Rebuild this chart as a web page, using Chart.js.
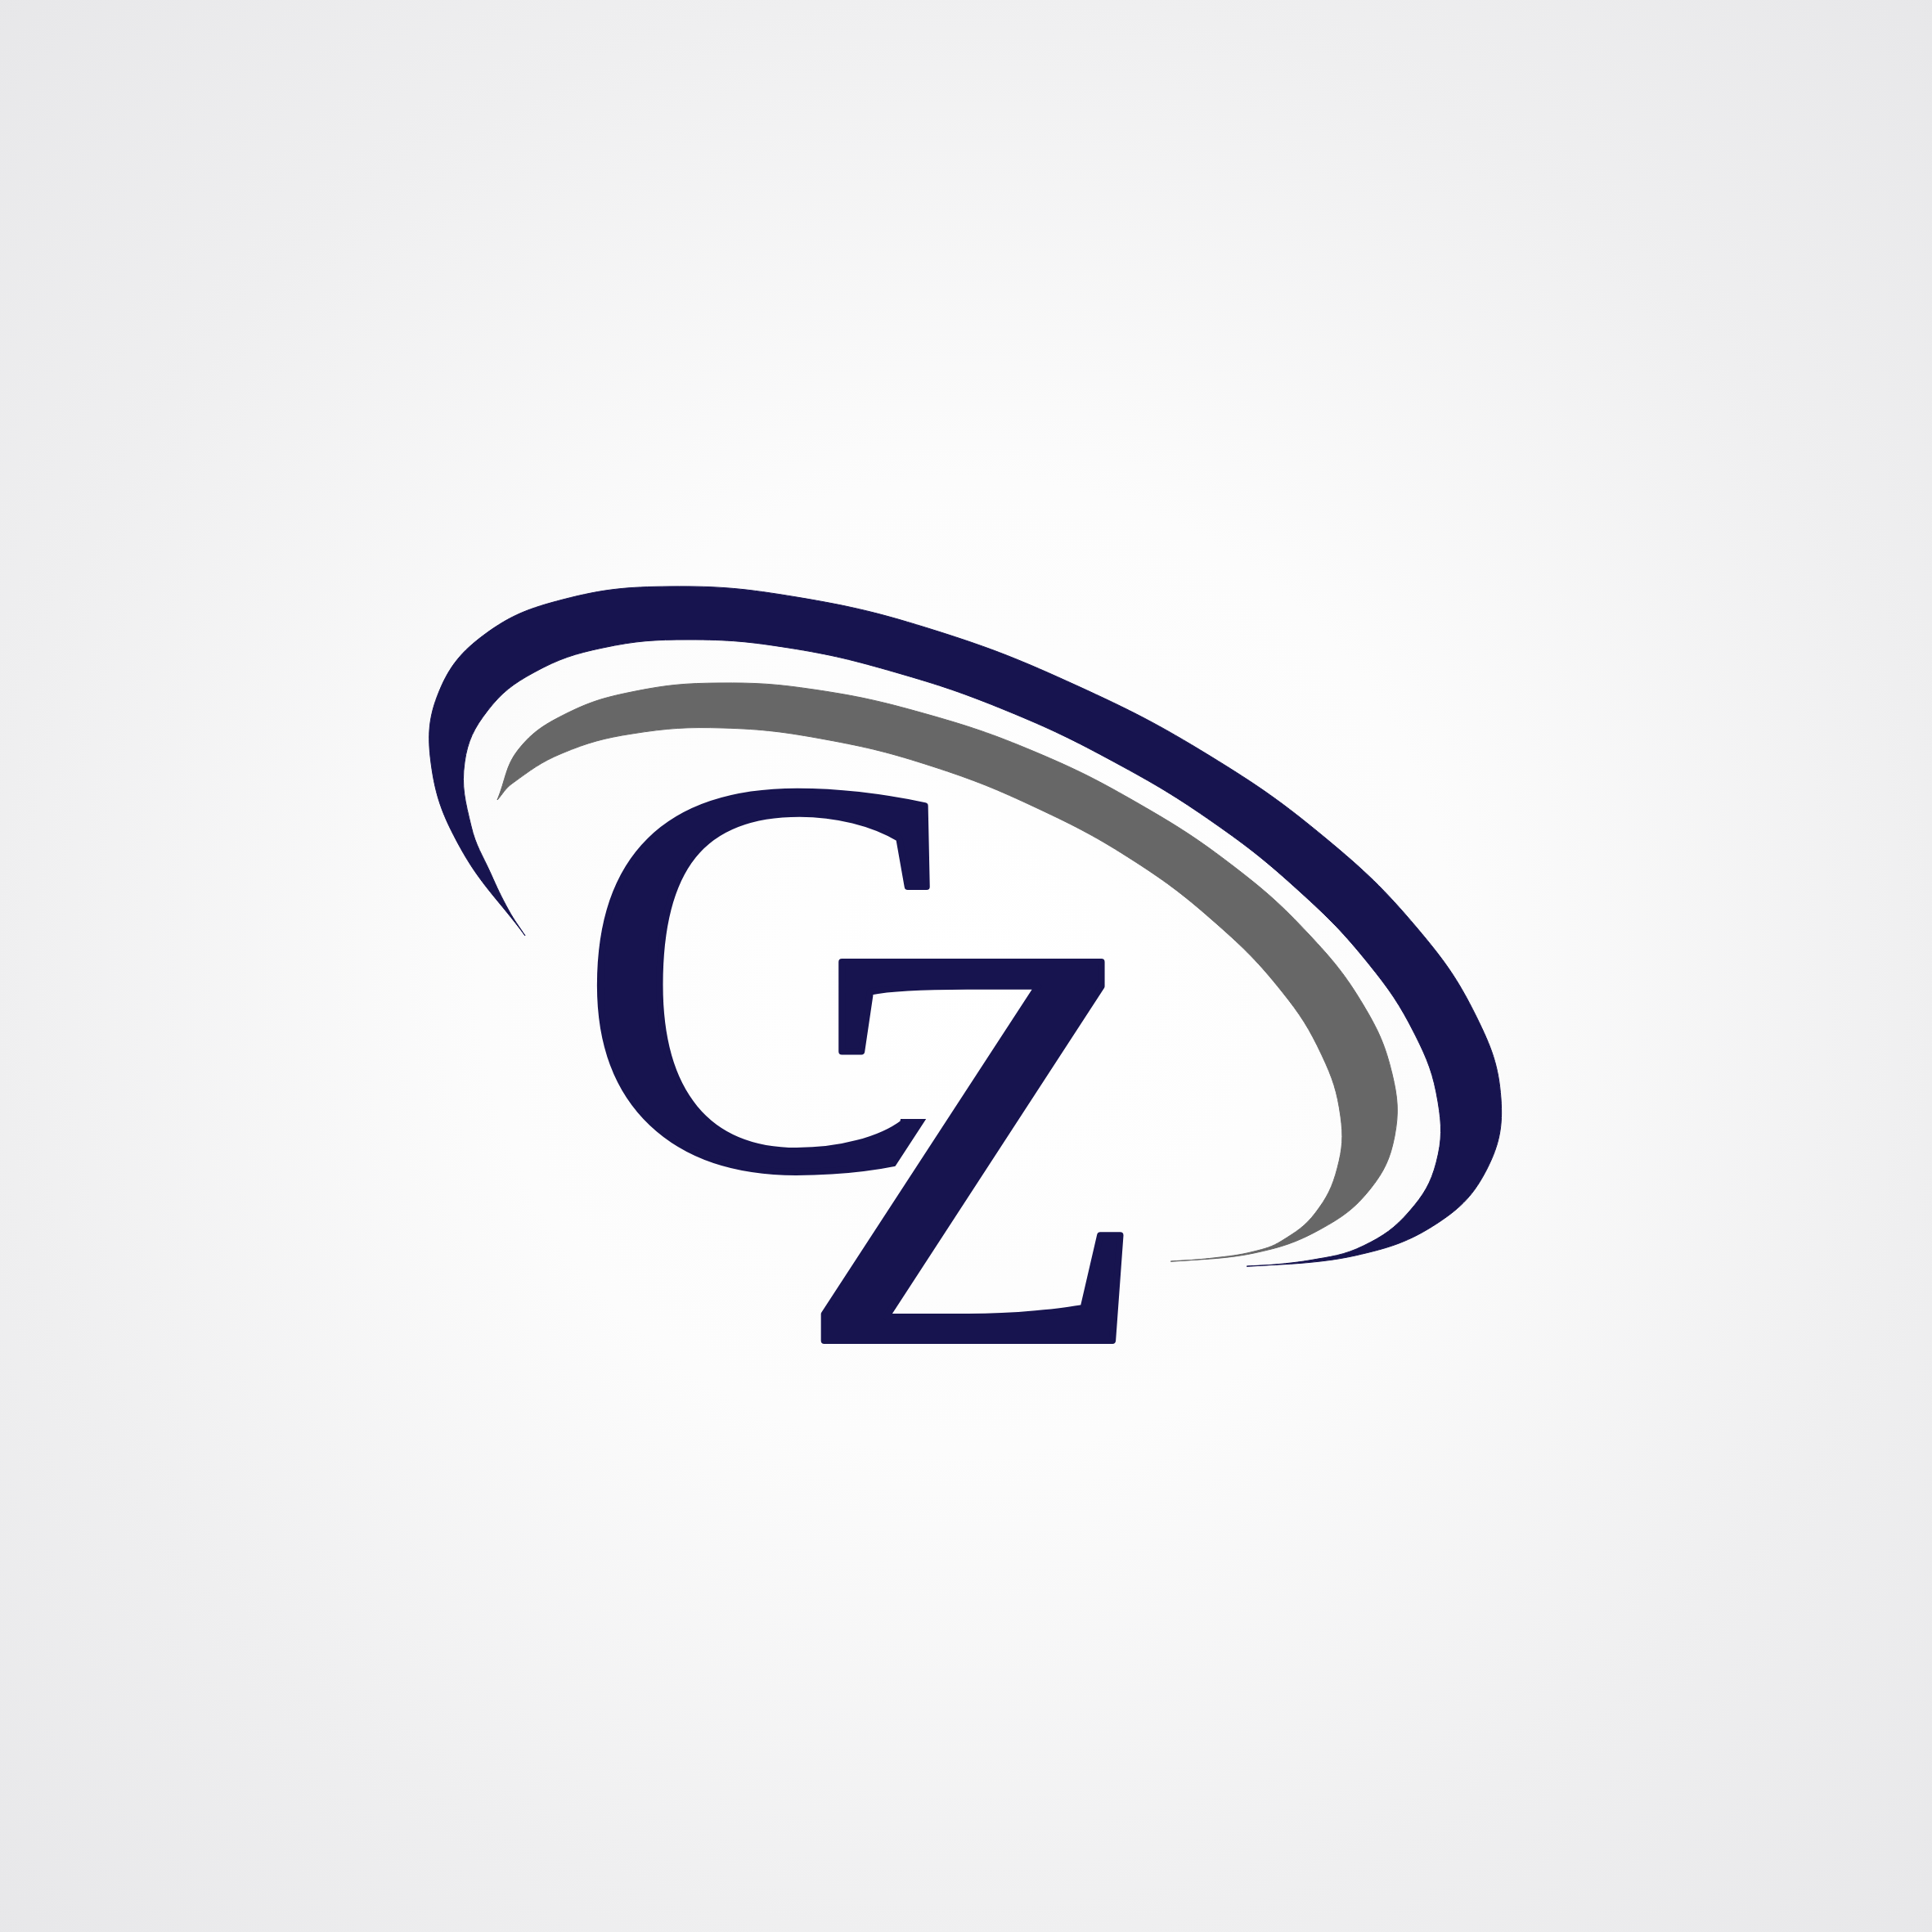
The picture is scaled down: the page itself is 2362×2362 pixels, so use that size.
<!DOCTYPE html>
<html lang="en">
  <head>
    <meta charset="utf-8" />
    <title>CZ monogram</title>
    <style>
      * {
        margin: 0;
        padding: 0;
      }
      body {
        background: #e8e8ea;
      }
      .chartBox {
        width: 2362px;
        height: 2362px;
      }
    </style>
  </head>
  <body>
    <div class="chartBox">
      <canvas id="myChart"></canvas>
    </div>

    <script src="https://cdn.jsdelivr.net/npm/chart.js"></script>

    <script>
      // swoosh outlines, [x, y] on a 0..2362 grid
      const navyOuter = [
        [642, 1144], [562, 1035], [527, 933], [537, 845], [592, 776],
        [688, 733], [819, 717], [974, 730], [1144, 771], [1316, 838],
        [1479, 924], [1621, 1025], [1732, 1134], [1805, 1243], [1835, 1343],
        [1818, 1429], [1758, 1495], [1657, 1535], [1525, 1548],
      ];
      const navyInner = [
        [1600, 1541], [1667, 1523], [1723, 1481], [1756, 1421], [1758, 1347],
        [1730, 1265], [1673, 1178], [1589, 1090], [1484, 1006], [1363, 932],
        [1231, 869], [1095, 822], [964, 792], [842, 782], [737, 792],
        [653, 822], [596, 869], [568, 932], [576, 1010], [600, 1068],
        [622, 1113], [642, 1144],
      ];
      const grayOuter = [
        [608, 978], [634, 916], [693, 872], [777, 845], [879, 835],
        [995, 843], [1129, 872], [1265, 919], [1393, 983], [1508, 1059],
        [1600, 1142], [1667, 1229], [1702, 1313], [1705, 1389], [1675, 1454],
        [1614, 1503], [1533, 1532], [1432, 1542],
      ];
      const grayInner = [
        [1483, 1538], [1533, 1530], [1567, 1517], [1608, 1483], [1635, 1428],
        [1639, 1365], [1616, 1290], [1567, 1212], [1488, 1130], [1387, 1053],
        [1268, 988], [1140, 937], [1009, 904], [884, 890], [773, 897],
        [687, 921], [626, 958], [608, 978],
      ];
      const swooshColors = ["#17144f", "#676767"];
      const letters = ["C", "Z"];
      const letterColor = "#17144f";

      const toPoints = (outer, inner) =>
        outer.concat(inner).map(([x, y]) => ({ x, y }));

      // background block
      const backdrop = {
        id: "backdrop",
        beforeDraw(chart) {
          const { ctx, width, height } = chart;
          const g = ctx.createRadialGradient(
            width / 2, height / 2, 0,
            width / 2, height / 2, width * 0.72
          );
          g.addColorStop(0, "#ffffff");
          g.addColorStop(0.35, "#fcfcfc");
          g.addColorStop(0.7, "#efeff0");
          g.addColorStop(1, "#e7e7e9");
          ctx.save();
          ctx.fillStyle = g;
          ctx.fillRect(0, 0, width, height);
          ctx.restore();
        },
      };

      // put one glyph so that its ink fills the given box
      const glyphFrame = (c, text, box, inset) => {
        c.font = '400px "Liberation Serif"';
        c.textAlign = "left";
        c.textBaseline = "alphabetic";
        const m = c.measureText(text);
        const inkW = m.actualBoundingBoxLeft + m.actualBoundingBoxRight;
        const inkH = m.actualBoundingBoxAscent + m.actualBoundingBoxDescent;
        const sx = (box.right - box.left - 2 * inset) / inkW;
        const sy = (box.bottom - box.top - 2 * inset) / inkH;
        c.translate(box.left + inset, box.top + inset);
        c.scale(sx, sy);
        return {
          tx: m.actualBoundingBoxLeft,
          ty: m.actualBoundingBoxAscent,
          k: (sx + sy) / 2,
        };
      };

      // monogram letters, drawn on a layer so the Z can cut the C
      const monogram = {
        id: "monogram",
        afterDatasetsDraw(chart, args, options) {
          const { ctx, scales: { x, y } } = chart;
          const toBox = (b) => ({
            left: x.getPixelForValue(b[0]),
            top: y.getPixelForValue(b[1]),
            right: x.getPixelForValue(b[2]),
            bottom: y.getPixelForValue(b[3]),
          });
          const boxC = toBox(options.boxes[0]);
          const boxZ = toBox(options.boxes[1]);
          const trim = toBox(options.trim);
          const thick = options.weight;

          const layer = document.createElement("canvas");
          layer.width = chart.canvas.width;
          layer.height = chart.canvas.height;
          const lc = layer.getContext("2d");
          lc.setTransform(ctx.getTransform());
          lc.lineJoin = "round";

          // C
          lc.save();
          lc.beginPath();
          lc.rect(0, 0, chart.width, chart.height);
          lc.rect(trim.left, trim.top, trim.right - trim.left, trim.bottom - trim.top);
          lc.clip("evenodd");
          let f = glyphFrame(lc, letters[0], boxC, thick / 2);
          lc.fillStyle = letterColor;
          lc.strokeStyle = letterColor;
          lc.lineWidth = thick / f.k;
          lc.fillText(letters[0], f.tx, f.ty);
          lc.strokeText(letters[0], f.tx, f.ty);
          lc.restore();

          // gap round the Z
          lc.save();
          lc.globalCompositeOperation = "destination-out";
          f = glyphFrame(lc, letters[1], boxZ, thick / 2);
          lc.lineWidth = options.gap / f.k;
          lc.fillText(letters[1], f.tx, f.ty);
          lc.strokeText(letters[1], f.tx, f.ty);
          lc.restore();

          // Z
          lc.save();
          f = glyphFrame(lc, letters[1], boxZ, thick / 2);
          lc.fillStyle = letterColor;
          lc.strokeStyle = letterColor;
          lc.lineWidth = thick / f.k;
          lc.fillText(letters[1], f.tx, f.ty);
          lc.strokeText(letters[1], f.tx, f.ty);
          lc.restore();

          ctx.save();
          ctx.setTransform(1, 0, 0, 1, 0, 0);
          ctx.drawImage(layer, 0, 0);
          ctx.restore();
        },
      };

      // data block
      const data = {
        datasets: [
          {
            label: "outer swoosh",
            data: toPoints(navyOuter, navyInner),
            backgroundColor: swooshColors[0],
            borderColor: swooshColors[0],
            fill: "shape",
            tension: 0.4,
          },
          {
            label: "inner swoosh",
            data: toPoints(grayOuter, grayInner),
            backgroundColor: swooshColors[1],
            borderColor: swooshColors[1],
            fill: "shape",
            tension: 0.4,
          },
        ],
      };

      // config block
      const config = {
        type: "line",
        data: data,
        options: {
          animation: false,
          responsive: true,
          maintainAspectRatio: false,
          layout: { padding: 0 },
          elements: {
            point: { radius: 0, hoverRadius: 0 },
            line: { borderWidth: 1, tension: 0.4 },
          },
          scales: {
            x: { type: "linear", min: 0, max: 2362, display: false },
            y: { type: "linear", min: 0, max: 2362, reverse: true, display: false },
          },
          plugins: {
            legend: { display: false },
            tooltip: { enabled: false },
            monogram: {
              boxes: [
                [723, 957, 1153, 1441],
                [1003, 1171, 1378, 1643],
              ],
              trim: [1095, 1200, 1210, 1368],
              weight: 8,
              gap: 52,
            },
          },
        },
        plugins: [backdrop, monogram],
      };

      // init render block
      const ctx = document.getElementById("myChart");
      const myChart = new Chart(ctx, config);
    </script>
  </body>
</html>
